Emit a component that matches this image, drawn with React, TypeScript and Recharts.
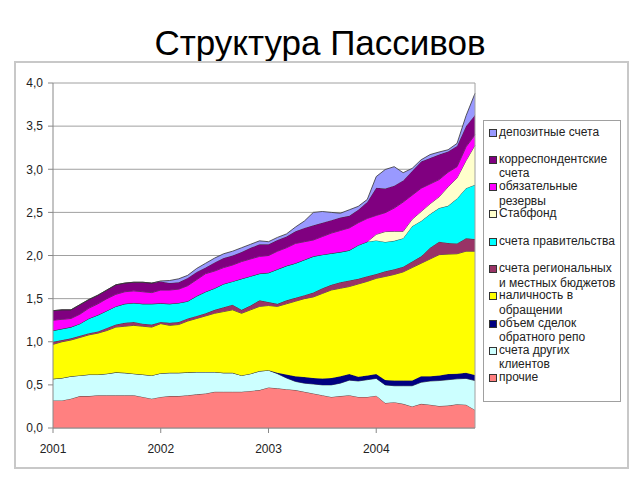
import React from 'react';
import { AreaChart, Area, XAxis, YAxis, CartesianGrid, ReferenceLine } from 'recharts';

// ежемесячные данные, январь 2001 – декабрь 2004 (трлн руб.)
const years = ['2001', '2002', '2003', '2004'];
const yTicks = [0, 0.5, 1, 1.5, 2, 2.5, 3, 3.5, 4];

const prochie = [
  .32, .32, .34, .37, .37, .38, .38, .38, .38, .38, .36, .34,
  .36, .37, .37, .38, .39, .40, .42, .42, .42, .42, .43, .44,
  .47, .46, .45, .44, .42, .40, .38, .36, .37, .38, .36, .36,
  .375, .29, .30, .28, .25, .28, .27, .255, .26, .275, .27, .21,
];
const drugieKlienty = [
  .25, .26, .26, .24, .25, .24, .25, .265, .26, .25, .26, .27,
  .275, .27, .27, .265, .26, .25, .23, .22, .22, .19, .20, .22,
  .20, .17, .13, .10, .10, .11, .12, .14, .15, .175, .185, .20,
  .20, .21, .19, .21, .24, .25, .275, .295, .30, .295, .305, .34,
];
const repo = [
  0, 0, 0, 0, 0, 0, 0, 0, 0, 0, 0, 0,
  0, 0, 0, 0, 0, 0, 0, 0, 0, 0, 0, 0,
  0, .01, .04, .06, .07, .07, .075, .08, .08, .07, .05, .05,
  .05, .057, .06, .06, .06, .07, .055, .06, .066, .06, .065, .065,
];
const nalichnost = [
  .40, .42, .42, .44, .46, .48, .50, .525, .54, .56, .56, .56,
  .575, .55, .56, .595, .62, .65, .68, .71, .73, .72, .74, .75,
  .75, .77, .82, .87, .91, .94, .985, 1.02, 1.02, 1.015, 1.075, 1.09,
  1.11, 1.20, 1.23, 1.26, 1.31, 1.31, 1.36, 1.40, 1.39, 1.39, 1.41, 1.435,
];
const regionalnye = [
  .03, .02, .02, .02, .02, .02, .03, .03, .04, .04, .03, .03,
  .02, .03, .03, .03, .03, .03, .04, .05, .06, .04, .05, .07,
  .04, .03, .04, .04, .04, .05, .06, .06, .07, .07, .06, .06,
  .05, .06, .06, .06, .07, .08, .13, .15, .13, .12, .15, .14,
];
const pravitelstvo = [
  .13, .13, .13, .14, .17, .19, .20, .21, .22, .22, .23, .24,
  .215, .22, .22, .20, .23, .25, .25, .27, .27, .36, .34, .31,
  .34, .40, .40, .40, .41, .42, .39, .365, .35, .35, .39, .40,
  .39, .34, .33, .33, .41, .41, .39, .39, .43, .52, .58, .63,
];
const stabfond = [
  0, 0, 0, 0, 0, 0, 0, 0, 0, 0, 0, 0,
  0, 0, 0, 0, 0, 0, 0, 0, 0, 0, 0, 0,
  0, 0, 0, 0, 0, 0, 0, 0, 0, 0, 0, 0,
  .07, .12, .11, .08, .08, .11, .12, .13, .22, .24, .32, .46,
];
const rezervy = [
  .12, .11, .10, .11, .12, .13, .14, .14, .14, .14, .14, .13,
  .155, .16, .16, .18, .19, .21, .20, .19, .19, .20, .20, .20,
  .20, .21, .21, .23, .21, .19, .21, .235, .25, .26, .26, .27,
  .22, .22, .27, .34, .28, .27, .23, .20, .17, .13, .16, .12,
];
const korrScheta = [
  .11, .11, .10, .11, .10, .10, .10, .11, .10, .10, .11, .11,
  .10, .08, .08, .09, .09, .07, .10, .11, .11, .11, .13, .14,
  .13, .13, .13, .14, .16, .17, .16, .15, .15, .14, .15, .19,
  .32, .28, .26, .25, .28, .31, .30, .29, .24, .24, .24, .23,
];
const depozity = [
  0, 0, 0, 0, 0, 0, 0, 0, 0, 0, 0, 0,
  .005, .03, .04, .03, .04, .05, .05, .05, .05, .05, .04, .04,
  .03, .03, .03, .05, .08, .15, .13, .09, .05, .07, .04, .03,
  .13, .22, .22, .09, .03, .02, .04, .03, .02, .03, .12, .25,
];

// снизу вверх
const series = [
  { key: 'prochie', name: 'прочие', color: '#FF8080', values: prochie },
  { key: 'drugie', name: 'счета других\nклиентов', color: '#CCFFFF', values: drugieKlienty },
  { key: 'repo', name: 'объем сделок\nобратного репо', color: '#000080', values: repo },
  { key: 'nal', name: 'наличность в\nобращении', color: '#FFFF00', values: nalichnost },
  { key: 'reg', name: 'счета региональных\nи местных бюджетов', color: '#993366', values: regionalnye },
  { key: 'prav', name: 'счета правительства', color: '#00FFFF', values: pravitelstvo },
  { key: 'stab', name: 'Стабфонд', color: '#FFFFCC', values: stabfond },
  { key: 'rez', name: 'обязательные\nрезервы', color: '#FF00FF', values: rezervy },
  { key: 'korr', name: 'корреспондентские\nсчета', color: '#800080', values: korrScheta },
  { key: 'dep', name: 'депозитные счета', color: '#9999FF', values: depozity },
];

const data = prochie.map((_, i) => {
  const row: Record<string, number> = { i };
  series.forEach(s => { row[s.key] = s.values[i]; });
  return row;
});

const FONT = '"Liberation Sans", Arial, sans-serif';

export default function App() {
  return (
    <div style={{ position: 'absolute', left: 0, top: 0, width: 640, height: 480, background: '#fff', fontFamily: FONT }}>
      <div style={{ position: 'absolute', left: 0, top: 25, width: 640, textAlign: 'center', fontSize: 35, lineHeight: '35px', color: '#000' }}>
        Структура Пассивов
      </div>
      <div style={{ position: 'absolute', left: 14, top: 61, width: 611, height: 404, border: '2px solid #c8c8c8' }} />

      <div style={{ position: 'absolute', left: 0, top: 0 }}>
        <AreaChart width={640} height={480} data={data} margin={{ top: 83, right: 165, bottom: 22, left: 13 }}>
          <CartesianGrid vertical={false} stroke="#a0a0a0" />
          <XAxis
            dataKey="i"
            type="number"
            domain={[0, 47]}
            ticks={[0, 12, 24, 36]}
            tickFormatter={(v: number) => years[v / 12]}
            height={30}
            tickSize={5}
            tickMargin={11}
            stroke="#888"
            tick={{ fill: '#222', fontSize: 12, fontFamily: FONT }}
          />
          <YAxis
            type="number"
            domain={[0, 4]}
            ticks={yTicks}
            width={40}
            tickSize={5}
            tickMargin={5}
            stroke="#888"
            tickFormatter={(v: number) => v.toFixed(1).replace('.', ',')}
            tick={{ fill: '#222', fontSize: 12, fontFamily: FONT }}
          />
          {series.map(s => (
            <Area
              key={s.key}
              dataKey={s.key}
              name={s.name}
              stackId="1"
              type="linear"
              fill={s.color}
              fillOpacity={1}
              stroke="#333"
              strokeWidth={0.8}
              isAnimationActive={false}
              dot={false}
              activeDot={false}
            />
          ))}
          <ReferenceLine x={47} stroke="#a0a0a0" />
        </AreaChart>
      </div>

      <div style={{ position: 'absolute', left: 483, top: 120, width: 136, height: 280, border: '1px solid #a0a0a0', background: '#fff' }}>
        {[...series].reverse().map((s, k) => (
          <div key={s.key} style={{ position: 'absolute', left: 0, top: 3.5 + 27.3 * k, width: 136 }}>
            <div style={{ position: 'absolute', left: 5, top: 4, width: 6, height: 6, background: s.color, border: '1px solid #333' }} />
            <div style={{ position: 'absolute', left: 15, top: 0, whiteSpace: 'pre-line', fontSize: 12, lineHeight: '14.5px', color: '#222' }}>
              {s.name}
            </div>
          </div>
        ))}
      </div>
    </div>
  );
}
